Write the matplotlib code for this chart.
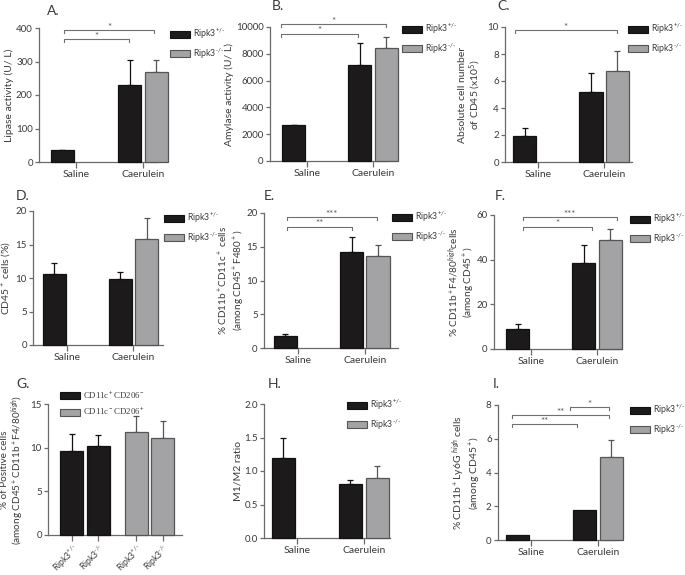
import matplotlib
matplotlib.use("Agg")
import matplotlib.pyplot as plt
from matplotlib.patches import Patch

plt.rcParams['font.family'] = ['Lato', 'DejaVu Sans']
plt.rcParams['mathtext.fontset'] = 'custom'
plt.rcParams['mathtext.rm'] = 'Lato'
plt.rcParams['mathtext.it'] = 'Lato:italic'
plt.rcParams['mathtext.bf'] = 'Lato:bold'

TXT = '#3a3a3a'
AX = '#6a6a6a'
BLACK = '#1c1a1b'
GRAY = '#a3a3a5'

groups = ["Saline", "Caerulein"]
het_label = r"Ripk3$^{\text{+/-}}$"
ko_label = r"Ripk3$^{\text{-/-}}$"

# A. lipase
lipase_het = [35, 230]
lipase_het_err = [2, 75]
lipase_ko = [None, 270]
lipase_ko_err = [None, 33]
# B. amylase
amylase_het = [2650, 7150]
amylase_het_err = [60, 1650]
amylase_ko = [None, 8400]
amylase_ko_err = [None, 860]
# C. absolute CD45
cd45abs_het = [1.93, 5.17]
cd45abs_het_err = [0.6, 1.4]
cd45abs_ko = [None, 6.76]
cd45abs_ko_err = [None, 1.43]
# D. CD45+ %
cd45pct_het = [10.6, 9.9]
cd45pct_het_err = [1.7, 1.0]
cd45pct_ko = [None, 15.8]
cd45pct_ko_err = [None, 3.2]
# E. CD11b+CD11c+
cd11c_het = [1.8, 14.2]
cd11c_het_err = [0.25, 2.3]
cd11c_ko = [None, 13.6]
cd11c_ko_err = [None, 1.6]
# F. CD11b+F4/80 high
f480_het = [8.9, 38.4]
f480_het_err = [2.3, 8.1]
f480_ko = [None, 48.8]
f480_ko_err = [None, 5.0]
# G. M1 / M2 positive cells
g_labels = [het_label, ko_label, het_label, ko_label]
m1_vals = [9.6, 10.2]
m1_err = [1.95, 1.3]
m2_vals = [11.8, 11.1]
m2_err = [1.8, 2.0]
# H. M1/M2 ratio
ratio_het = [1.2, 0.8]
ratio_het_err = [0.29, 0.07]
ratio_ko = [None, 0.9]
ratio_ko_err = [None, 0.18]
# I. CD11b+Ly6G high
ly6g_het = [0.3, 1.8]
ly6g_het_err = [0, 0]
ly6g_ko = [None, 4.9]
ly6g_ko_err = [None, 1.0]

fig = plt.figure(figsize=(6.85, 5.75), dpi=100)


def px_axes(l, t, r, b):
    return fig.add_axes([l / 685, 1 - b / 575, (r - l) / 685, (b - t) / 575])


def style(ax, ylim, step, xlim, fmt=None):
    for s in ['top', 'right']:
        ax.spines[s].set_visible(False)
    for s in ['left', 'bottom']:
        ax.spines[s].set_color(AX)
        ax.spines[s].set_linewidth(0.9)
    ax.set_ylim(*ylim)
    ax.set_xlim(*xlim)
    ticks = []
    v = ylim[0]
    while v <= ylim[1] + 1e-9:
        ticks.append(v)
        v += step
    ax.set_yticks(ticks)
    if fmt:
        ax.set_yticklabels([fmt.format(t) for t in ticks])
    ax.tick_params(colors=AX, labelcolor=TXT, labelsize=7, width=0.9, length=3, pad=1.5)
    ax.tick_params(axis='x', length=4, pad=2)


def draw_bar(ax, x, v, e, face, edge, w=0.35):
    ax.bar(x, v, w, color=face, edgecolor=edge, linewidth=0.9, clip_on=False, zorder=3)
    if e:
        ax.errorbar(x, v, yerr=[[0], [e]], fmt='none', ecolor=edge, elinewidth=0.9,
                    capsize=2.5, capthick=0.9, clip_on=False, zorder=2)


def group_panel(ax, het, het_err, ko, ko_err):
    for i in range(len(groups)):
        if het[i] is not None:
            draw_bar(ax, i - 0.2, het[i], het_err[i], BLACK, '#111111')
        if ko[i] is not None:
            draw_bar(ax, i + 0.2, ko[i], ko_err[i], GRAY, '#555555')
    ax.set_xticks(range(len(groups)))
    ax.set_xticklabels(groups, fontsize=7.5)


def brackets(ax, items, drop):
    for x1, x2, y, s in items:
        ax.plot([x1, x1, x2, x2], [y - drop, y, y, y - drop], color='#707070', lw=0.8, clip_on=False)
        ax.text((x1 + x2) / 2, y - drop * 0.6, s, ha='center', va='bottom', fontsize=7, color='#555555')


def legend(ax, x, y, labels, serif=False):
    handles = [Patch(facecolor=BLACK, edgecolor='#111111', linewidth=0.8),
               Patch(facecolor=GRAY, edgecolor='#555555', linewidth=0.8)]
    kw = dict(size=6.3)
    if serif:
        kw = dict(family=['Liberation Serif', 'DejaVu Serif'], size=6.3)
    leg = ax.legend(handles, labels, loc='upper left', bbox_to_anchor=(x / 685, 1 - y / 575),
                    bbox_transform=fig.transFigure, frameon=False, borderpad=0, borderaxespad=0,
                    handlelength=2.3, handleheight=0.8, handletextpad=0.35, labelspacing=0.55,
                    prop=kw)
    for t in leg.get_texts():
        t.set_color(TXT)


def ylabel(ax, s, size=7.5, pad=1.5):
    ax.set_ylabel(s, fontsize=size, color=TXT, labelpad=pad, linespacing=1.05)


# A
ax = px_axes(39, 28, 157, 162)
style(ax, (0, 400), 100, (-0.55, 1.21))
group_panel(ax, lipase_het, lipase_het_err, lipase_ko, lipase_ko_err)
brackets(ax, [(-0.18, 1.17, 393, '*'), (-0.18, 0.785, 368, '*')], 9)
ylabel(ax, "Lipase activity (U/ L)")
legend(ax, 170, 27, [het_label, ko_label])

# B
ax = px_axes(270, 27, 387, 161)
style(ax, (0, 10000), 2000, (-0.56, 1.21))
group_panel(ax, amylase_het, amylase_het_err, amylase_ko, amylase_ko_err)
brackets(ax, [(-0.40, 1.19, 10200, '*'), (-0.40, 0.77, 9500, '*')], 220)
ylabel(ax, "Amylase activity (U/ L)")
legend(ax, 402, 22, [het_label, ko_label])

# C
ax = px_axes(505, 27, 632, 162)
style(ax, (0, 10), 2, (-0.5, 1.42))
group_panel(ax, cd45abs_het, cd45abs_het_err, cd45abs_ko, cd45abs_ko_err)
brackets(ax, [(-0.35, 1.19, 9.75, '*')], 0.22)
ylabel(ax, "Absolute cell number\nof CD45 (x10$^5$)", pad=3)
legend(ax, 628, 22, [het_label, ko_label])

# D
ax = px_axes(33, 211, 163, 345)
style(ax, (0, 20), 5, (-0.52, 1.45))
group_panel(ax, cd45pct_het, cd45pct_het_err, cd45pct_ko, cd45pct_ko_err)
ylabel(ax, "CD45$^+$ cells (%)")
legend(ax, 164, 211, [het_label, ko_label])

# E
ax = px_axes(264, 213, 398, 348)
style(ax, (0, 20), 5, (-0.52, 1.5))
group_panel(ax, cd11c_het, cd11c_het_err, cd11c_ko, cd11c_ko_err)
brackets(ax, [(-0.18, 1.18, 19.4, '***'), (-0.18, 0.8, 18.0, '**')], 0.45)
ylabel(ax, "% CD11b$^+$CD11c$^+$ cells\n(among CD45$^+$F480$^+$)", size=7.2, pad=0.5)
legend(ax, 392, 210, [het_label, ko_label])

# F
ax = px_axes(494, 215, 622, 349)
style(ax, (0, 60), 20, (-0.56, 1.38))
group_panel(ax, f480_het, f480_het_err, f480_ko, f480_ko_err)
brackets(ax, [(-0.12, 1.30, 59, '***'), (-0.12, 0.92, 54.8, '*')], 1.3)
ylabel(ax, "% CD11b$^+$F4/80$^{high}$cells\n(among CD45$^+$)", size=7.2, pad=0)
legend(ax, 630, 212, [het_label, ko_label])

# G
ax = px_axes(48, 404, 182, 535)
style(ax, (0, 15), 5, (-0.9, 4.15))
g_pos = [0, 1, 2.43, 3.43]
for i in range(2):
    draw_bar(ax, g_pos[i], m1_vals[i], m1_err[i], BLACK, '#111111', w=0.87)
    draw_bar(ax, g_pos[i + 2], m2_vals[i], m2_err[i], GRAY, '#555555', w=0.87)
ax.set_xticks(g_pos)
ax.set_xticklabels(g_labels, fontsize=6.2, rotation=45, ha='right', rotation_mode='anchor')
ax.tick_params(axis='x', pad=1)
ylabel(ax, "% of Positive cells\n(among CD45$^+$CD11b$^+$F4/80$^{high}$)", size=7.2, pad=3)
legend(ax, 60, 389, ["CD11c$^+$CD206$^-$", "CD11c$^-$CD206$^+$"], serif=True)

# H
ax = px_axes(264, 404, 390, 538)
style(ax, (0, 2), 0.5, (-0.49, 1.39), fmt="{:.1f}")
group_panel(ax, ratio_het, ratio_het_err, ratio_ko, ratio_ko_err)
ylabel(ax, "M1/M2 ratio")
legend(ax, 347, 398, [het_label, ko_label])

# I
ax = px_axes(498, 405, 618, 540)
style(ax, (0, 8), 2, (-0.49, 1.3))
group_panel(ax, ly6g_het, ly6g_het_err, ly6g_ko, ly6g_ko_err)
brackets(ax, [(0.585, 1.17, 7.9, '*'), (-0.28, 1.17, 7.4, '**'), (-0.28, 0.685, 6.85, '**')], 0.18)
ylabel(ax, "% CD11b$^+$Ly6G $^{high}$ cells\n(among CD45$^+$)", pad=3)
legend(ax, 630, 403, [het_label, ko_label])

titles = [("A.", 47, 11), ("B.", 272, 6), ("C.", 497, 6),
          ("D.", 16, 196), ("E.", 264, 196), ("F.", 495, 196),
          ("G.", 16, 384), ("H.", 268, 384), ("I.", 493, 384)]
for s, x, y in titles:
    fig.text(x / 685, 1 - y / 575, s, fontsize=10, color=TXT, va='center', ha='left')

fig.savefig("out.png", dpi=100)
